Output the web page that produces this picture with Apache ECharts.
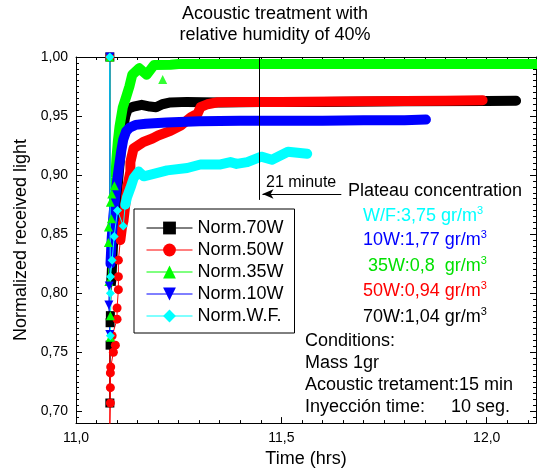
<!DOCTYPE html>
<html>
<head>
<meta charset="utf-8">
<script src="https://cdn.jsdelivr.net/npm/echarts@6/dist/echarts.min.js"></script>
<style>
  html, body { margin: 0; padding: 0; background: #fff; }
  #chart { width: 537px; height: 473px; }
</style>
</head>
<body>
<div id="chart"></div>
<script>
// values: [time (hrs), normalized received light]
var norm70W = [
  [11.0824, 1.000], [11.0824, 0.707], [11.0830, 0.756], [11.0830, 0.775], [11.0837, 0.781],
  [11.0860, 0.810], [11.0900, 0.840], [11.0950, 0.865], [11.1000, 0.885], [11.1050, 0.905],
  [11.1100, 0.925], [11.1150, 0.940], [11.1200, 0.950], [11.1260, 0.956], [11.1400, 0.958],
  [11.1600, 0.9595], [11.1800, 0.958], [11.1950, 0.9575], [11.2100, 0.960], [11.2300, 0.9615],
  [11.2700, 0.962], [11.3500, 0.9615], [11.4500, 0.962], [11.6000, 0.962], [11.8000, 0.9625],
  [12.0000, 0.9628], [12.0715, 0.963]
];
var norm50W = [
  [11.0824, 1.000], [11.0824, 0.688], [11.0837, 0.707], [11.0837, 0.720], [11.0837, 0.7325],
  [11.0845, 0.7375], [11.0910, 0.750], [11.0959, 0.756], [11.0880, 0.764], [11.1000, 0.778],
  [11.1000, 0.7875], [11.1032, 0.803], [11.1032, 0.814], [11.1032, 0.828], [11.1080, 0.845],
  [11.1120, 0.856], [11.1155, 0.861], [11.1200, 0.875], [11.1245, 0.889], [11.1324, 0.903],
  [11.1324, 0.911], [11.1400, 0.9225], [11.1640, 0.928], [11.1860, 0.931], [11.2000, 0.9335],
  [11.2300, 0.9375], [11.2550, 0.942], [11.2800, 0.949], [11.2960, 0.952], [11.3030, 0.9575],
  [11.3200, 0.960], [11.3450, 0.9617], [11.4000, 0.962], [11.5000, 0.962], [11.7000, 0.9625],
  [11.9000, 0.963], [11.9900, 0.9633]
];
var norm35W = [
  [11.0824, 1.000], [11.0837, 0.7627], [11.0837, 0.781], [11.0800, 0.810], [11.0788, 0.843],
  [11.0790, 0.856], [11.0861, 0.863], [11.0837, 0.877], [11.0870, 0.884], [11.0934, 0.891],
  [11.0959, 0.8975], [11.0983, 0.913], [11.1020, 0.929], [11.1060, 0.941], [11.1140, 0.9575],
  [11.1220, 0.966], [11.1300, 0.975], [11.1370, 0.985], [11.1540, 0.9905], [11.1720, 0.985],
  [11.1900, 0.9933], [11.2300, 0.9935], [11.2500, 0.994], [11.3000, 0.994], [11.4000, 0.994],
  [11.5000, 0.994], [11.7000, 0.994], [11.9000, 0.994], [12.1200, 0.994]
];
var norm35WStray = [[11.2110, 0.981]];
var norm10W = [
  [11.0824, 1.000], [11.0824, 0.765], [11.0800, 0.790], [11.0810, 0.806], [11.0840, 0.825],
  [11.0870, 0.847], [11.0910, 0.865], [11.0950, 0.880], [11.1000, 0.895], [11.1050, 0.908],
  [11.1100, 0.920], [11.1150, 0.930], [11.1220, 0.937], [11.1300, 0.940], [11.1450, 0.9425],
  [11.1700, 0.9435], [11.2200, 0.9445], [11.3000, 0.9455], [11.4000, 0.946], [11.5000, 0.946],
  [11.6000, 0.946], [11.7000, 0.9465], [11.8000, 0.9465], [11.8520, 0.947]
];
var normWF = [
  [11.0824, 1.000], [11.0837, 0.764], [11.0837, 0.800], [11.0840, 0.814], [11.0880, 0.828],
  [11.0930, 0.848], [11.1010, 0.870], [11.1150, 0.857], [11.1200, 0.875], [11.1240, 0.881],
  [11.1324, 0.889], [11.1405, 0.8975], [11.1528, 0.903], [11.1650, 0.8990], [11.1890, 0.9010],
  [11.2220, 0.9040], [11.2710, 0.9060], [11.3030, 0.9090], [11.3520, 0.9090], [11.3760, 0.9110],
  [11.3910, 0.9095], [11.4170, 0.9110], [11.4510, 0.9156], [11.4770, 0.9130], [11.5160, 0.9197],
  [11.5630, 0.9180]
];

var yMajorTicks = [0.70, 0.75, 0.80, 0.85, 0.90, 0.95, 1.00];

// 21 minute marker and arrow
var markerLine = [[11.447, 1.0], [11.447, 0.879]];
var arrowLine = [[11.646, 0.884], [11.454, 0.884]];

var plateauRows = [
  { pre: 'W/F:3,75 gr/m', color: '#00ffff' },
  { pre: '10W:1,77 gr/m', color: '#0000ff' },
  { pre: '35W:0,8  gr/m', color: '#00e000' },
  { pre: '50W:0,94 gr/m', color: '#ff0000' },
  { pre: '70W:1,04 gr/m', color: '#000000' }
];
var conditionRows = ['Conditions:', 'Mass 1gr', 'Acoustic tretament:15 min', 'Inyección time:'];

var FONT = '"Liberation Sans", Arial, sans-serif';

// band = index where the dense marker band starts
var defs = [
  { name: 'Norm.70W', data: norm70W, band: 5, color: '#000000', symbol: 'rect', rot: 0 },
  { name: 'Norm.50W', data: norm50W, band: 14, color: '#ff0000', symbol: 'circle', rot: 0 },
  { name: 'Norm.35W', data: norm35W, band: 9, color: '#00ff00', symbol: 'triangle', rot: 0 },
  { name: 'Norm.10W', data: norm10W, band: 4, color: '#0000ff', symbol: 'triangle', rot: 180 },
  { name: 'Norm.W.F.', data: normWF, band: 8, color: '#00ffff', symbol: 'diamond', rot: 0 }
];

var series = [];
defs.forEach(function (d) {
  series.push({
    name: d.name + ' band',
    type: 'line',
    data: d.data.slice(d.band),
    symbol: 'none',
    lineStyle: { width: 10, color: d.color, join: 'round', cap: 'round' },
    animation: false,
    silent: true
  });
  series.push({
    name: d.name,
    type: 'line',
    data: d.data.slice(0, d.band + 1),
    symbol: d.symbol,
    symbolRotate: d.rot,
    symbolSize: 9,
    showAllSymbol: true,
    lineStyle: { width: 1, color: d.color },
    itemStyle: { color: d.color },
    animation: false
  });
  if (d.name === 'Norm.35W') {
    series.push({
      name: 'Norm.35W stray',
      type: 'scatter',
      data: norm35WStray,
      symbol: 'triangle',
      symbolSize: 9,
      itemStyle: { color: d.color },
      animation: false
    });
  }
});

series.push({
  type: 'line',
  data: [],
  animation: false,
  markLine: {
    silent: true,
    animation: false,
    symbol: ['none', 'none'],
    label: { show: false },
    lineStyle: { color: '#000', width: 1, type: 'solid' },
    data: [
      [{ coord: markerLine[0] }, { coord: markerLine[1] }],
      [{ coord: arrowLine[0], symbol: 'none' }, { coord: arrowLine[1], symbol: 'arrow', symbolSize: [7, 11] }]
    ]
  }
});

function txt(x, y, text, size, color) {
  return {
    type: 'text', x: x, y: y, z: 100,
    style: {
      text: text, fill: color || '#000', font: size + 'px ' + FONT,
      align: 'left', verticalAlign: 'middle', textAlign: 'left', textVerticalAlign: 'middle'
    }
  };
}

var graphics = [];
graphics.push({
  type: 'text', x: 275, y: 14.5, z: 100,
  style: { text: 'Acoustic treatment with', fill: '#000', font: '18px ' + FONT,
    align: 'center', verticalAlign: 'middle', textAlign: 'center', textVerticalAlign: 'middle' }
});
graphics.push({
  type: 'text', x: 275, y: 35.5, z: 100,
  style: { text: 'relative humidity of 40%', fill: '#000', font: '18px ' + FONT,
    align: 'center', verticalAlign: 'middle', textAlign: 'center', textVerticalAlign: 'middle' }
});
graphics.push(txt(266, 183, '21 minute', 16));
graphics.push(txt(348, 191, 'Plateau concentration', 18));

var rowX = [363, 363, 368, 363, 363];
var rowY = [216, 240.5, 266, 291.5, 317];
plateauRows.forEach(function (r, i) {
  graphics.push({
    type: 'text', x: rowX[i], y: rowY[i], z: 100,
    style: {
      text: '{a|' + r.pre + '}{s|3}',
      align: 'left', verticalAlign: 'middle', textAlign: 'left', textVerticalAlign: 'middle',
      rich: {
        a: { fill: r.color, fontSize: 18, fontFamily: FONT, lineHeight: 22 },
        s: { fill: r.color, fontSize: 11, fontFamily: FONT, lineHeight: 12, verticalAlign: 'top' }
      }
    }
  });
});
var condY = [341.5, 363.3, 385, 406.7];
conditionRows.forEach(function (t, i) {
  graphics.push(txt(305, condY[i], t, 18));
});
graphics.push(txt(451, 406.7, '10 seg.', 18));

var blackAxis = { lineStyle: { color: '#000', width: 1 } };
var fmtX = function (v) { return v.toFixed(1).replace('.', ','); };
var fmtY = function (v) { return v.toFixed(2).replace('.', ','); };

var chart = echarts.init(document.getElementById('chart'));
chart.setOption({
  animation: false,
  grid: { left: 76, right: 1, top: 57, bottom: 46 },
  legend: {
    data: defs.map(function (d) { return d.name; }),
    orient: 'vertical',
    left: 134, top: 209,
    padding: [9, 11, 7, 12],
    backgroundColor: '#fff',
    borderColor: '#000',
    borderWidth: 1,
    borderRadius: 0,
    itemWidth: 46,
    itemHeight: 16,
    itemGap: 2,
    lineStyle: { width: 1 },
    textStyle: { fontSize: 18, lineHeight: 20, color: '#000', fontFamily: FONT }
  },
  xAxis: [
    {
      type: 'value', position: 'bottom', min: 11, max: 12.12, interval: 0.5,
      name: 'Time (hrs)', nameLocation: 'middle', nameGap: 26,
      nameTextStyle: { fontSize: 18, color: '#000', fontFamily: FONT },
      axisLine: blackAxis,
      axisTick: { inside: true, length: 6, lineStyle: { color: '#000' } },
      axisLabel: { formatter: fmtX, showMaxLabel: false, margin: 8, fontSize: 14, color: '#000', fontFamily: FONT },
      splitLine: { show: false }
    },
    {
      type: 'value', position: 'bottom', min: 11, max: 12.12, interval: 0.05,
      axisLine: { show: false },
      axisTick: { inside: true, length: 3, lineStyle: { color: '#000' } },
      axisLabel: { show: false }, splitLine: { show: false }
    },
    {
      type: 'value', position: 'top', min: 11, max: 12.12, interval: 0.5,
      axisLine: blackAxis,
      axisTick: { inside: true, length: 6, lineStyle: { color: '#000' } },
      axisLabel: { show: false }, splitLine: { show: false }
    },
    {
      type: 'value', position: 'top', min: 11, max: 12.12, interval: 0.05,
      axisLine: { show: false },
      axisTick: { inside: true, length: 3, lineStyle: { color: '#000' } },
      axisLabel: { show: false }, splitLine: { show: false }
    }
  ],
  yAxis: [
    {
      type: 'value', position: 'left', min: 0.69, max: 1.0,
      name: 'Normalized received light', nameLocation: 'middle', nameGap: 37,
      nameTextStyle: { fontSize: 18, color: '#000', fontFamily: FONT },
      axisLine: { show: true, lineStyle: { color: '#000', width: 1 } },
      axisTick: { show: true, inside: true, length: 6, customValues: yMajorTicks, lineStyle: { color: '#000' } },
      axisLabel: { customValues: yMajorTicks, formatter: fmtY, margin: 8, fontSize: 14, color: '#000', fontFamily: FONT },
      splitLine: { show: false }
    },
    {
      type: 'value', position: 'left', min: 0.69, max: 1.0, interval: 0.005,
      axisLine: { show: false },
      axisTick: { show: true, inside: true, length: 3, lineStyle: { color: '#000' } },
      axisLabel: { show: false }, splitLine: { show: false }
    },
    {
      type: 'value', position: 'right', min: 0.69, max: 1.0,
      axisLine: { show: true, lineStyle: { color: '#000', width: 1 } },
      axisTick: { show: true, inside: true, length: 6, customValues: yMajorTicks, lineStyle: { color: '#000' } },
      axisLabel: { show: false }, splitLine: { show: false }
    },
    {
      type: 'value', position: 'right', min: 0.69, max: 1.0, interval: 0.005,
      axisLine: { show: false },
      axisTick: { show: true, inside: true, length: 3, lineStyle: { color: '#000' } },
      axisLabel: { show: false }, splitLine: { show: false }
    }
  ],
  series: series,
  graphic: graphics
});
</script>
</body>
</html>
